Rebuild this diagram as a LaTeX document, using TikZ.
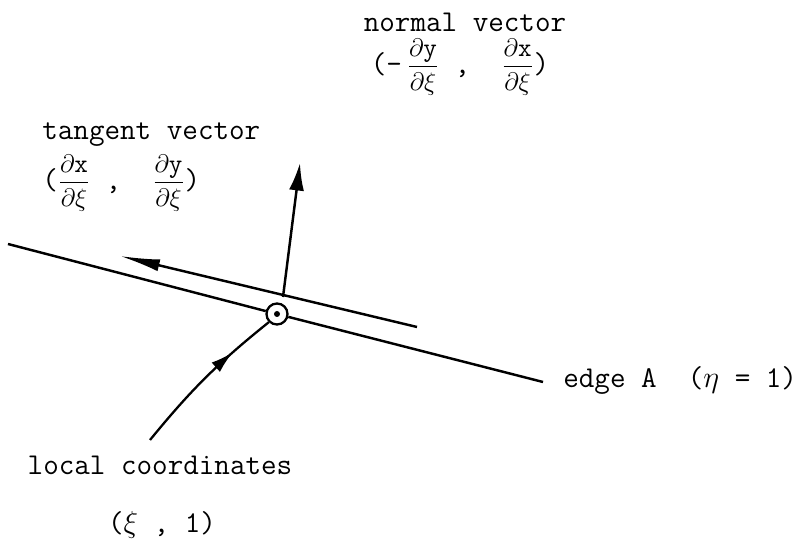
\documentclass[tikz,border=0pt]{standalone}
\usepackage{amsmath,amssymb}
\usepackage{fontspec}
\usepackage{tikz}
\usetikzlibrary{arrows.meta, positioning, calc, decorations.markings}

\newcommand{\pd}[2]{{\fontsize{15}{17}\selectfont$\dfrac{\partial\mathtt{#1}}{\partial #2}$}}

\begin{document}
\begin{tikzpicture}[
    lbl/.style={font=\fontsize{17.2}{20}\selectfont\ttfamily, inner sep=0pt},
    edgeline/.style={line width=1.4pt},
    vec/.style={line width=1.4pt, -{Latex[length=0.55cm, width=0.3cm]}},
    tanvec/.style={line width=1.4pt, -{Latex[length=0.8cm, width=0.24cm]}},
    midarr/.style={line width=1.3pt, postaction={decorate},
        decoration={markings, mark=at position 0.72 with {\arrow{Latex[length=0.45cm, width=0.25cm]}}}}
]
\useasboundingbox (0,0) rectangle (16.16,11);

% edge and the point on it
\node[draw, circle, line width=1.3pt, minimum size=0.42cm, inner sep=0pt] (pt) at (5.54,4.72) {};
\fill (pt.center) circle (0.06);
\coordinate (eA) at (0.16,6.12);
\coordinate (eB) at (10.86,3.36);
\draw[edgeline] (eA) -- (pt);
\draw[edgeline] (pt) -- (eB);

% tangent and normal
\coordinate (tA) at (8.34,4.46);
\coordinate (tB) at (2.4,5.88);
\draw[tanvec] (tA) -- (tB);
\coordinate (nA) at (5.66,5.06);
\coordinate (nB) at (6.0,7.74);
\draw[vec] (nA) -- (nB);

% local coordinates pointer
\coordinate (lc) at (3.0,2.2);
\draw[midarr] (lc) to[bend left=6] (pt.south west);

% labels
\node[lbl] (normal) at (9.3,10.56) {normal vector};
\node[lbl] (nform) at (9.2,9.66) {(-\,\pd{y}{\xi} ,\ \ \pd{x}{\xi})};
\node[lbl, anchor=west] (tangent) at (0.84,8.3) {tangent vector};
\node[lbl, anchor=west] (tform) at (0.84,7.34) {(\pd{x}{\xi} ,\ \ \pd{y}{\xi})};
\node[lbl, anchor=west] (edge) at (11.26,3.4) {edge A\ \ ($\eta$ = 1)};
\node[lbl] (local) at (3.2,1.7) {local coordinates};
\node[lbl] (lform) at (3.24,0.5) {($\xi$ , 1)};

\end{tikzpicture}
\end{document}
